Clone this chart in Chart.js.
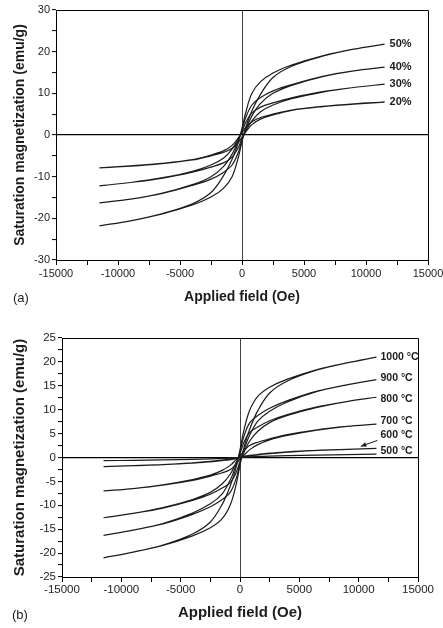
<!DOCTYPE html>
<html>
<head>
<meta charset="utf-8">
<script src="https://cdn.jsdelivr.net/npm/chart.js@4.4.1/dist/chart.umd.min.js"></script>
<style>
    html, body { margin: 0; padding: 0; background: #fff; }
    .panel { position: absolute; left: 0; }
    #panelA { top: 0; }
    #panelB { top: 310px; }
    .tag { position: absolute; font: 13px "Liberation Sans", Arial, sans-serif; color: #222; line-height: 14px; }
</style>
</head>
<body>
<div class="panel" id="panelA"><canvas id="chartA" width="443" height="310"></canvas></div>
<div class="panel" id="panelB"><canvas id="chartB" width="443" height="318"></canvas></div>
<div class="tag" style="left:13px;top:291px;">(a)</div>
<div class="tag" style="left:12px;top:608px;">(b)</div>
<script>
(function () {
    'use strict';

    // ── DATA ───────────────────────────────────────────────────────────────
    // applied field (Oe) where each branch is read
    const FIELD = [-11500, -9000, -6500, -4000, -2500, -1500, -800, -300, 0,
                   300, 800, 1500, 2500, 4000, 6500, 9000, 11500];

    // (a) series: upper branch = field coming down, lower branch = field going up
    const A_LABELS = ['50%', '40%', '30%', '20%'];
    const A50_UP  = [-21.8, -20.6, -18.9, -16.5, -13.8, -9.8, -5.8, -1.8, 1.6, 5.4, 10.0, 12.8, 14.9, 16.8, 19.0, 20.6, 21.8];
    const A50_LOW = [-21.8, -20.6, -19.0, -16.8, -14.9, -12.8, -10.0, -5.4, -1.6, 1.8, 5.8, 9.8, 13.8, 16.5, 18.9, 20.6, 21.8];
    const A40_UP  = [-16.3, -15.4, -14.0, -11.9, -10.0, -7.6, -4.6, -1.3, 1.2, 4.2, 7.2, 9.0, 10.6, 12.1, 14.1, 15.4, 16.3];
    const A40_LOW = [-16.3, -15.4, -14.1, -12.1, -10.6, -9.0, -7.2, -4.2, -1.2, 1.3, 4.6, 7.6, 10.0, 11.9, 14.0, 15.4, 16.3];
    const A30_UP  = [-12.2, -11.4, -10.3, -8.7, -7.2, -5.6, -3.4, -0.9, 0.8, 3.0, 5.3, 6.7, 7.7, 8.9, 10.4, 11.4, 12.2];
    const A30_LOW = [-12.2, -11.4, -10.4, -8.9, -7.7, -6.7, -5.3, -3.0, -0.8, 0.9, 3.4, 5.6, 7.2, 8.7, 10.3, 11.4, 12.2];
    const A20_UP  = [-7.9, -7.4, -6.8, -5.9, -4.8, -3.8, -2.5, -0.7, 0.5, 1.8, 3.2, 4.2, 5.0, 6.0, 6.9, 7.5, 7.9];
    const A20_LOW = [-7.9, -7.5, -6.9, -6.0, -5.0, -4.2, -3.2, -1.8, -0.5, 0.7, 2.5, 3.8, 4.8, 5.9, 6.8, 7.4, 7.9];

    // (b) series
    const B_LABELS = ['1000 °C', '900 °C', '800 °C', '700 °C', '600 °C', '500 °C'];
    const B1000_UP  = [-21.0, -19.8, -18.3, -16.0, -13.5, -9.8, -5.8, -1.8, 1.6, 5.4, 9.8, 12.8, 14.7, 16.4, 18.4, 19.8, 21.0];
    const B1000_LOW = [-21.0, -19.8, -18.4, -16.4, -14.7, -12.8, -9.8, -5.4, -1.6, 1.8, 5.8, 9.8, 13.5, 16.0, 18.3, 19.8, 21.0];
    const B900_UP   = [-16.3, -15.2, -13.8, -11.6, -9.7, -7.6, -4.6, -1.3, 1.2, 4.2, 7.2, 8.8, 10.3, 11.9, 13.9, 15.2, 16.3];
    const B900_LOW  = [-16.3, -15.2, -13.9, -11.9, -10.3, -8.8, -7.2, -4.2, -1.2, 1.3, 4.6, 7.6, 9.7, 11.6, 13.8, 15.2, 16.3];
    const B800_UP   = [-12.6, -11.7, -10.5, -8.8, -7.3, -5.5, -3.4, -0.9, 0.8, 3.0, 5.2, 6.4, 7.7, 9.0, 10.6, 11.7, 12.6];
    const B800_LOW  = [-12.6, -11.7, -10.6, -9.0, -7.7, -6.4, -5.2, -3.0, -0.8, 0.9, 3.4, 5.5, 7.3, 8.8, 10.5, 11.7, 12.6];
    const B700_UP   = [-7.0, -6.5, -5.7, -4.6, -3.7, -2.7, -1.6, -0.4, 0.3, 1.3, 2.5, 3.2, 3.9, 4.8, 5.8, 6.5, 7.0];
    const B700_LOW  = [-7.0, -6.5, -5.8, -4.8, -3.9, -3.2, -2.5, -1.3, -0.3, 0.4, 1.6, 2.7, 3.7, 4.6, 5.7, 6.5, 7.0];
    const B600_UP   = [-1.9, -1.7, -1.5, -1.1, -0.8, -0.55, -0.3, -0.05, 0.05, 0.25, 0.45, 0.65, 0.9, 1.2, 1.5, 1.7, 1.9];
    const B600_LOW  = [-1.9, -1.7, -1.5, -1.2, -0.9, -0.65, -0.45, -0.25, -0.05, 0.05, 0.3, 0.55, 0.8, 1.1, 1.5, 1.7, 1.9];
    const B500_UP   = [-0.65, -0.6, -0.5, -0.4, -0.3, -0.2, -0.1, 0.0, 0.0, 0.1, 0.15, 0.22, 0.3, 0.4, 0.5, 0.6, 0.7];
    const B500_LOW  = [-0.65, -0.6, -0.5, -0.4, -0.3, -0.22, -0.15, -0.1, 0.0, 0.0, 0.1, 0.2, 0.3, 0.4, 0.5, 0.6, 0.7];

    const A_UP  = [A50_UP, A40_UP, A30_UP, A20_UP];
    const A_LOW = [A50_LOW, A40_LOW, A30_LOW, A20_LOW];
    const B_UP  = [B1000_UP, B900_UP, B800_UP, B700_UP, B600_UP, B500_UP];
    const B_LOW = [B1000_LOW, B900_LOW, B800_LOW, B700_LOW, B600_LOW, B500_LOW];

    // ── STYLE ──────────────────────────────────────────────────────────────
    const FONT = '"Liberation Sans", Arial, Helvetica, sans-serif';
    const INK  = '#1c1c1c';
    Chart.defaults.font.family = FONT;
    Chart.defaults.color = INK;

    // loop: lower branch left -> right, then upper branch right -> left
    function loopPoints(low, up) {
        const pts = FIELD.map((f, i) => ({ x: f, y: low[i] }));
        for (let i = FIELD.length - 1; i >= 0; i--) pts.push({ x: FIELD[i], y: up[i] });
        return pts;
    }

    function buildDatasets(labels, lows, ups) {
        return labels.map((lab, i) => ({
            label: lab,
            data: loopPoints(lows[i], ups[i]),
            showLine: true,
            borderColor: INK,
            borderWidth: 1.2,
            pointRadius: 0,
            tension: 0.35,
            fill: false
        }));
    }

    // frame on top/right + the curve names at the right end
    const framePlugin = {
        id: 'frameLabels',
        afterDatasetsDraw(chart, args, opts) {
            const { ctx, chartArea: a, scales: { x, y } } = chart;
            ctx.save();
            ctx.strokeStyle = '#000';
            ctx.lineWidth = 1;
            ctx.beginPath();
            ctx.moveTo(a.left, a.top + 0.5);
            ctx.lineTo(a.right + 0.5, a.top + 0.5);
            ctx.lineTo(a.right + 0.5, a.bottom);
            ctx.stroke();

            ctx.font = `bold ${opts.size}px ${FONT}`;
            ctx.fillStyle = INK;
            ctx.textAlign = 'left';
            ctx.textBaseline = 'middle';
            const last = FIELD.length - 1;
            chart.data.datasets.forEach((ds, i) => {
                const px = x.getPixelForValue(FIELD[last]) + opts.dx;
                const py = y.getPixelForValue(ds.data[last].y) + opts.dy[i];
                ctx.fillText(ds.label, px, py);
            });

            if (opts.arrow) {
                const ar = opts.arrow;
                const ds = chart.data.datasets[ar.index];
                const lx = x.getPixelForValue(FIELD[last]) + opts.dx;
                const ly = y.getPixelForValue(ds.data[last].y) + opts.dy[ar.index];
                const tx = x.getPixelForValue(FIELD[last - 1]) + ar.tipDx;
                const ty = y.getPixelForValue(ds.data[last - 1].y) + ar.tipDy;
                const sx = lx - 3, sy = ly + 5;
                ctx.strokeStyle = INK;
                ctx.lineWidth = 1;
                ctx.beginPath();
                ctx.moveTo(sx, sy);
                ctx.lineTo(tx, ty);
                ctx.stroke();
                const ang = Math.atan2(ty - sy, tx - sx);
                ctx.beginPath();
                ctx.moveTo(tx, ty);
                ctx.lineTo(tx - 6 * Math.cos(ang - 0.4), ty - 6 * Math.sin(ang - 0.4));
                ctx.lineTo(tx - 6 * Math.cos(ang + 0.4), ty - 6 * Math.sin(ang + 0.4));
                ctx.closePath();
                ctx.fillStyle = INK;
                ctx.fill();
            }
            ctx.restore();
        }
    };

    function makeChart(id, cfg) {
        const fixX = s => { s.height = cfg.xHeight; s.paddingLeft = 0; s.paddingRight = 0; };
        const fixY = s => { s.width = cfg.yWidth; s.paddingTop = 0; s.paddingBottom = 0; };
        return new Chart(document.getElementById(id), {
            type: 'scatter',
            data: { datasets: buildDatasets(cfg.labels, cfg.lows, cfg.ups) },
            options: {
                responsive: false,
                animation: false,
                devicePixelRatio: 1,
                layout: { padding: { left: 0, top: cfg.top, right: cfg.right, bottom: 0 } },
                plugins: {
                    legend: { display: false },
                    tooltip: { enabled: false },
                    frameLabels: cfg.labelOpts
                },
                scales: {
                    x: {
                        type: 'linear',
                        min: -15000, max: 15000,
                        afterFit: fixX,
                        ticks: {
                            stepSize: 2500,
                            autoSkip: false,
                            maxRotation: 0,
                            padding: cfg.xPad,
                            font: { size: cfg.tickSize },
                            color: INK,
                            callback: v => (v % 5000 === 0 ? String(v) : '')
                        },
                        grid: {
                            color: c => (c.tick && c.tick.value === 0 ? '#444' : 'rgba(0,0,0,0)'),
                            lineWidth: 1,
                            tickColor: '#000',
                            tickLength: 5
                        },
                        border: { display: true, color: '#000', width: 1 },
                        title: {
                            display: true,
                            text: 'Applied field (Oe)',
                            font: { size: cfg.titleSize, weight: 'bold' },
                            color: INK,
                            padding: { top: 0, bottom: cfg.xTitlePad }
                        }
                    },
                    y: {
                        type: 'linear',
                        min: cfg.yMin, max: cfg.yMax,
                        afterFit: fixY,
                        ticks: {
                            stepSize: cfg.yStep,
                            autoSkip: false,
                            padding: 2,
                            font: { size: cfg.tickSize },
                            color: INK,
                            callback: v => (v % cfg.yMajor === 0 ? String(v) : '')
                        },
                        grid: {
                            color: c => (c.tick && c.tick.value === 0 ? '#000' : 'rgba(0,0,0,0)'),
                            lineWidth: 1.2,
                            tickColor: '#000',
                            tickWidth: 1,
                            tickLength: 4
                        },
                        border: { display: true, color: '#000', width: 1 },
                        title: {
                            display: true,
                            text: 'Saturation magnetization (emu/g)',
                            font: { size: cfg.titleSize, weight: 'bold' },
                            color: INK,
                            padding: { top: cfg.yTitlePad, bottom: 0 }
                        }
                    }
                }
            },
            plugins: [framePlugin]
        });
    }

    // ── CHARTS ─────────────────────────────────────────────────────────────
    makeChart('chartA', {
        labels: A_LABELS, lows: A_LOW, ups: A_UP,
        top: 10, right: 15, xHeight: 50, yWidth: 56,
        yMin: -30, yMax: 30, yStep: 5, yMajor: 10,
        tickSize: 11, titleSize: 14, xPad: 2, xTitlePad: 4.5, yTitlePad: 11.5,
        labelOpts: { size: 11, dx: 5, dy: [0, 0, 0, 0] }
    });

    makeChart('chartB', {
        labels: B_LABELS, lows: B_LOW, ups: B_UP,
        top: 28, right: 25, xHeight: 51, yWidth: 62,
        yMin: -25, yMax: 25, yStep: 2.5, yMajor: 5,
        tickSize: 11.5, titleSize: 15, xPad: 1, xTitlePad: 6, yTitlePad: 11,
        labelOpts: {
            size: 10.5, dx: 4, dy: [0, -1, 2, -3, -13, -3],
            arrow: { index: 4, tipDx: 14, tipDy: -3 }
        }
    });

})();
</script>
</body>
</html>
